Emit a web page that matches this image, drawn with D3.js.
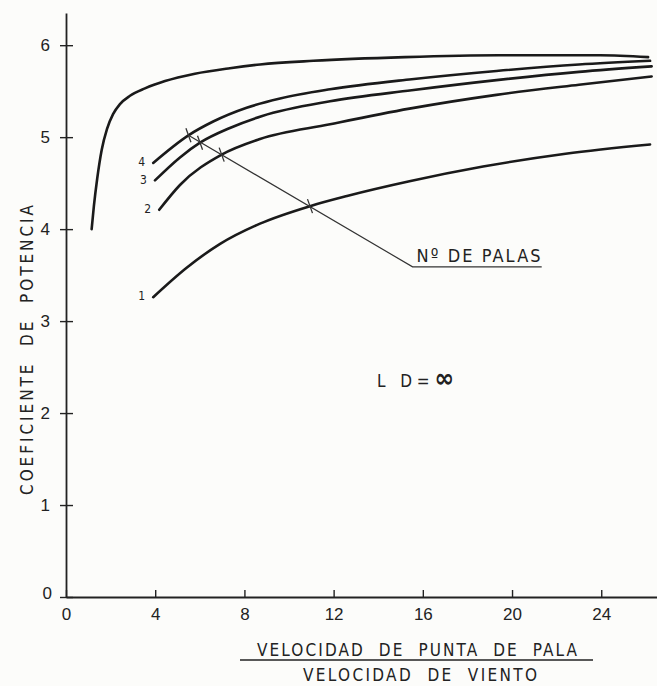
<!DOCTYPE html>
<html>
<head>
<meta charset="utf-8">
<script src="https://cdn.jsdelivr.net/npm/d3@7"></script>
<style>
  body { margin: 0; background: #fcfcfa; }
  svg { display: block; font-family: "DejaVu Sans Condensed", "Liberation Sans Narrow", "DejaVu Sans", sans-serif; }
  text { fill: #222; }
</style>
</head>
<body>
<script>
// values: [tip speed ratio, power coefficient]
var curveLimit = [[1.15, 4.0], [1.25, 4.25], [1.4, 4.55], [1.6, 4.86], [1.84, 5.09], [2.11, 5.25],
  [2.42, 5.36], [2.87, 5.45], [3.54, 5.53], [4.44, 5.61], [5.78, 5.69], [7.35, 5.75], [8.7, 5.79],
  [11.09, 5.83], [15.2, 5.87], [19.4, 5.89], [23.95, 5.89], [26.1, 5.87]];
var curve4 = [[3.91, 4.72], [5.49, 5.02], [6.6, 5.17], [8.1, 5.32], [9.6, 5.42], [11.84, 5.52],
  [15.5, 5.63], [19.3, 5.72], [23.0, 5.79], [26.19, 5.83]];
var curve3 = [[3.99, 4.53], [5.11, 4.78], [6.01, 4.94], [7.35, 5.1], [8.8, 5.23], [11.84, 5.39],
  [15.5, 5.51], [19.3, 5.62], [23.0, 5.71], [26.26, 5.77]];
var curve2 = [[4.18, 4.21], [5.11, 4.48], [6.98, 4.81], [8.7, 4.98], [11.84, 5.14], [15.4, 5.31],
  [19.3, 5.46], [23.0, 5.57], [26.26, 5.66]];
var curve1 = [[3.91, 3.26], [5.41, 3.58], [6.91, 3.84], [8.7, 4.06], [10.94, 4.25], [12.6, 4.36],
  [15.4, 4.52], [18.7, 4.68], [22.4, 4.82], [26.19, 4.92]];

var bladeCurves = [curve1, curve2, curve3, curve4];
var bladeLabels = ["1", "2", "3", "4"];
// crossings of the "Nº de palas" leader with each curve
var markers = [[10.94, 4.25], [6.98, 4.81], [6.01, 4.94], [5.49, 5.02]];
var leader = [[5.49, 5.02], [15.54, 3.59], [21.33, 3.59]];

var xTicks = [0, 4, 8, 12, 16, 20, 24];
var yTicks = [0, 1, 2, 3, 4, 5, 6];

var width = 657, height = 686;

var svg = d3.select("body")
  .append("svg")
    .attr("width", width)
    .attr("height", height);

var x = d3.scaleLinear()
      .domain([0, 26.5])
      .range([66, 657]);
var y = d3.scaleLinear()
      .domain([0, 6.35])
      .range([597, 13]);

// X axis
var gx = svg.append("g")
    .attr("transform", "translate(0," + y(0) + ")")
    .call(d3.axisBottom(x).tickValues(xTicks).tickFormat(d3.format("d")).tickSizeOuter(0).tickPadding(5));
gx.select(".domain").attr("stroke-width", 1.8).attr("stroke", "#222");
gx.selectAll(".tick line").attr("y1", 1).attr("y2", -7).attr("stroke-width", 1.4).attr("stroke", "#222");
gx.selectAll(".tick text").attr("font-size", 17).attr("font-family", null).attr("fill", "#222");

// Y axis
var gy = svg.append("g")
    .attr("transform", "translate(" + x(0) + ",0)")
    .call(d3.axisLeft(y).tickValues(yTicks).tickFormat(d3.format("d")).tickSizeOuter(0).tickPadding(10));
gy.select(".domain").attr("stroke-width", 1.8).attr("stroke", "#222");
gy.selectAll(".tick line").attr("x1", -6).attr("x2", 7).attr("stroke-width", 1.4).attr("stroke", "#222");
gy.selectAll(".tick text").attr("font-size", 17).attr("font-family", null).attr("fill", "#222");
gy.selectAll(".tick").filter(function(d) { return d === 0; }).select("text").attr("dy", "0.1em").attr("x", -14);

var line = d3.line()
    .x(function(d) { return x(d[0]); })
    .y(function(d) { return y(d[1]); })
    .curve(d3.curveMonotoneX);

// curves
svg.selectAll("path.cp")
  .data([curveLimit].concat(bladeCurves))
  .enter()
  .append("path")
    .attr("class", "cp")
    .attr("d", line)
    .attr("fill", "none")
    .attr("stroke", "#1a1a1a")
    .attr("stroke-width", 2.6)
    .attr("stroke-linecap", "round");

// blade number labels at the curve starts
svg.selectAll("text.blades")
  .data(bladeCurves)
  .enter()
  .append("text")
    .attr("class", "blades")
    .attr("x", function(d) { return x(d[0][0]) - 8; })
    .attr("y", function(d) { return y(d[0][1]) - 1; })
    .attr("dy", "0.35em")
    .attr("text-anchor", "end")
    .attr("font-size", 12)
    .text(function(d, i) { return bladeLabels[i]; });

// leader line and its label
svg.append("path")
    .attr("d", d3.line().x(function(d) { return x(d[0]); }).y(function(d) { return y(d[1]); })(leader))
    .attr("fill", "none")
    .attr("stroke", "#333")
    .attr("stroke-width", 1.2);

svg.append("text")
    .attr("x", x(leader[1][0]) + 4)
    .attr("y", y(leader[1][1]) - 5)
    .attr("font-size", 18)
    .attr("textLength", 124)
    .text("Nº DE PALAS");

// cross ticks where the leader meets each curve
svg.selectAll("line.mark")
  .data(markers)
  .enter()
  .append("line")
    .attr("class", "mark")
    .attr("x1", function(d) { return x(d[0]) - 2.5; })
    .attr("x2", function(d) { return x(d[0]) + 2.5; })
    .attr("y1", function(d) { return y(d[1]) - 7; })
    .attr("y2", function(d) { return y(d[1]) + 7; })
    .attr("stroke", "#333")
    .attr("stroke-width", 1.3);

var ld = svg.append("text")
    .attr("x", x(13.95))
    .attr("y", y(2.28))
    .attr("font-size", 17)
    .style("white-space", "pre");
ld.append("tspan").text("L   D = ");
ld.append("tspan").attr("font-size", 26).attr("font-weight", "bold").text("∞");

// axis titles
svg.append("text")
    .attr("transform", "translate(33," + 350 + ")rotate(-90)")
    .attr("text-anchor", "middle")
    .attr("font-size", 17)
    .attr("textLength", 290)
    .style("white-space", "pre")
    .text("COEFICIENTE  DE  POTENCIA");

svg.append("text")
    .attr("x", 417)
    .attr("y", 656)
    .attr("text-anchor", "middle")
    .attr("font-size", 17)
    .attr("textLength", 320)
    .style("white-space", "pre")
    .text("VELOCIDAD  DE  PUNTA  DE  PALA");

svg.append("line")
    .attr("x1", 240).attr("x2", 593)
    .attr("y1", 660).attr("y2", 660)
    .attr("stroke", "#222")
    .attr("stroke-width", 1.6);

svg.append("text")
    .attr("x", 420)
    .attr("y", 681)
    .attr("text-anchor", "middle")
    .attr("font-size", 17)
    .attr("textLength", 234)
    .style("white-space", "pre")
    .text("VELOCIDAD  DE  VIENTO");
</script>
</body>
</html>
